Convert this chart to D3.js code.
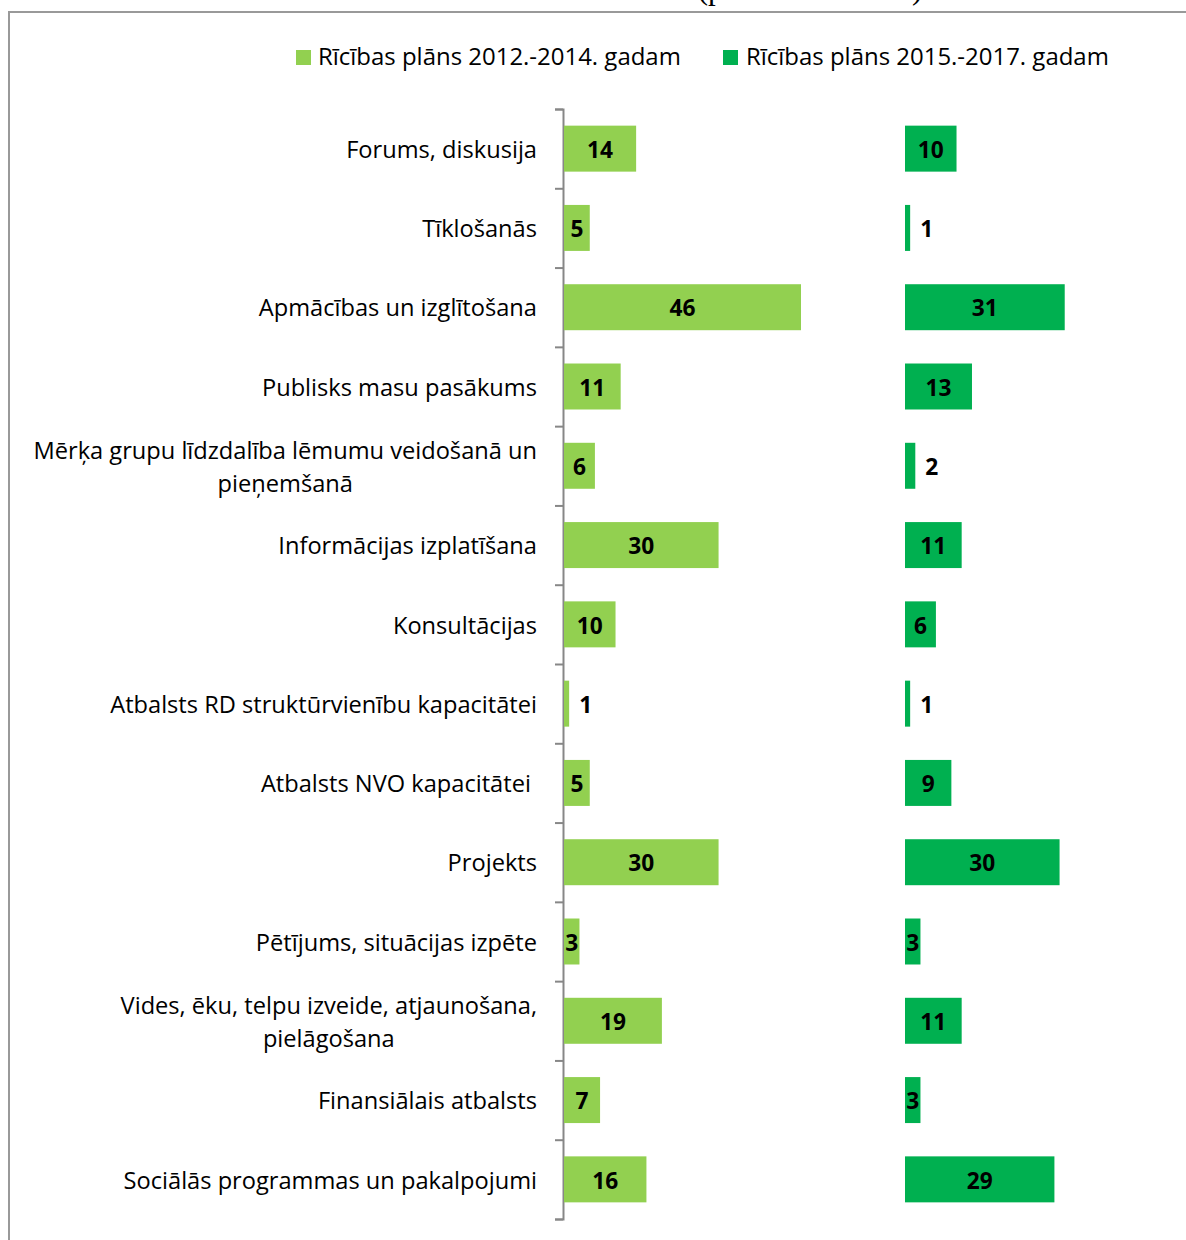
<!DOCTYPE html>
<html>
<head>
<meta charset="utf-8">
<script src="https://cdn.jsdelivr.net/npm/d3@7"></script>
<style>
  html, body { margin: 0; padding: 0; background: #fff; }
  svg { display: block; }
</style>
</head>
<body>
<svg id="chart" width="1186" height="1240"></svg>
<script>
// ---- data ----
const categories = [
  "Forums, diskusija",
  "Tīklošanās",
  "Apmācības un izglītošana",
  "Publisks masu pasākums",
  "Mērķa grupu līdzdalība lēmumu veidošanā un\npieņemšanā",
  "Informācijas izplatīšana",
  "Konsultācijas",
  "Atbalsts RD struktūrvienību kapacitātei",
  "Atbalsts NVO kapacitātei ",
  "Projekts",
  "Pētījums, situācijas izpēte",
  "Vides, ēku, telpu izveide, atjaunošana,\npielāgošana",
  "Finansiālais atbalsts",
  "Sociālās programmas un pakalpojumi"
];
const plan2012 = [14, 5, 46, 11, 6, 30, 10, 1, 5, 30, 3, 19, 7, 16];
const plan2015 = [10, 1, 31, 13, 2, 11, 6, 1, 9, 30, 3, 11, 3, 29];
const seriesNames = ["Rīcības plāns 2012.-2014. gadam", "Rīcības plāns 2015.-2017. gadam"];
const titleText = "(pasākumu skaits)";

// ---- styles ----
const colors = ["#92D050", "#00B050"];
const font = "'Open Sans', 'DejaVu Sans', sans-serif";
const svg = d3.select("#chart");

// measure helper to fit a font size to a target width
function fitSize(text, target, weight) {
  const t = svg.append("text").attr("font-family", font).attr("font-size", 20)
    .attr("font-weight", weight || "normal").style("white-space", "pre").text(text);
  const w = t.node().getComputedTextLength();
  t.remove();
  return 20 * target / w;
}
const catSize = fitSize("Forums, diskusija", 191);
const legSize = fitSize(seriesNames[0], 363);
const valSize = fitSize("14", 26, "bold");

// frame
svg.append("rect").attr("x", 9).attr("y", 12).attr("width", 1200).attr("height", 1250)
  .attr("fill", "none").attr("stroke", "#999").attr("stroke-width", 2);

// title remnant (cut off at top, as in the reference)
svg.append("text").attr("x", 810).attr("y", -1).attr("text-anchor", "middle")
  .attr("font-family", "'Liberation Serif', 'Times New Roman', serif").attr("font-size", 31)
  .text(titleText);

// scales
const y = d3.scaleBand().domain(d3.range(categories.length)).range([109, 1219])
  .paddingInner(0.42).paddingOuter(0.21);
const x = d3.scaleLinear().domain([0, 46]).range([0, 237]);
const panelX = [564, 905];
const series = [plan2012, plan2015];

// axis (ticks on category boundaries)
const yEdge = d3.scaleLinear().domain([0, categories.length]).range([109, 1219]);
const axisG = svg.append("g").attr("transform", "translate(563,0)")
  .call(d3.axisLeft(yEdge).tickValues(d3.range(categories.length + 1))
    .tickFormat("").tickSize(8).tickSizeOuter(8));
axisG.selectAll("path, line").attr("stroke", "#878787").attr("stroke-width", 2);

// category labels
const catG = svg.append("g");
categories.forEach((c, i) => {
  const lines = c.split("\n");
  const cy = y(i) + y.bandwidth() / 2 + 1;
  if (lines.length === 1) {
    catG.append("text").attr("x", 537).attr("y", cy).attr("dy", "0.35em")
      .attr("text-anchor", "end").attr("font-family", font).attr("font-size", catSize)
      .attr("fill", "#000").style("white-space", "pre").text(c);
  } else {
    const t = catG.append("text").attr("font-family", font).attr("font-size", catSize)
      .attr("text-anchor", "middle").attr("fill", "#000");
    const ts = lines.map(l => t.append("tspan").text(l));
    const maxW = d3.max(ts, s => s.node().getComputedTextLength());
    const cx = 537 - maxW / 2;
    const lh = 33;
    ts.forEach((s, k) => s.attr("x", cx).attr("y", cy + (k - (lines.length - 1) / 2) * lh).attr("dy", "0.35em"));
  }
});

// bars & value labels
series.forEach((vals, si) => {
  const g = svg.append("g").attr("transform", `translate(${panelX[si]},0)`);
  g.selectAll("rect").data(vals).join("rect")
    .attr("x", 0).attr("y", (d, i) => y(i))
    .attr("width", d => x(d)).attr("height", y.bandwidth())
    .attr("fill", colors[si]);
  g.selectAll("text").data(vals).join("text")
    .attr("x", d => d <= 2 ? x(d) + 10 : x(d) / 2)
    .attr("y", (d, i) => y(i) + y.bandwidth() / 2 + 1)
    .attr("dy", "0.36em")
    .attr("text-anchor", d => d <= 2 ? "start" : "middle")
    .attr("font-family", font).attr("font-weight", "bold").attr("font-size", valSize)
    .attr("fill", "#000")
    .text(d => d);
});

// legend
const legX = [296, 723], legTextX = [318, 746];
seriesNames.forEach((n, i) => {
  svg.append("rect").attr("x", legX[i]).attr("y", 50).attr("width", 15).attr("height", 15)
    .attr("fill", colors[i]);
  svg.append("text").attr("x", legTextX[i]).attr("y", 57).attr("dy", "0.35em")
    .attr("font-family", font).attr("font-size", legSize).attr("fill", "#000").text(n);
});
</script>
</body>
</html>
